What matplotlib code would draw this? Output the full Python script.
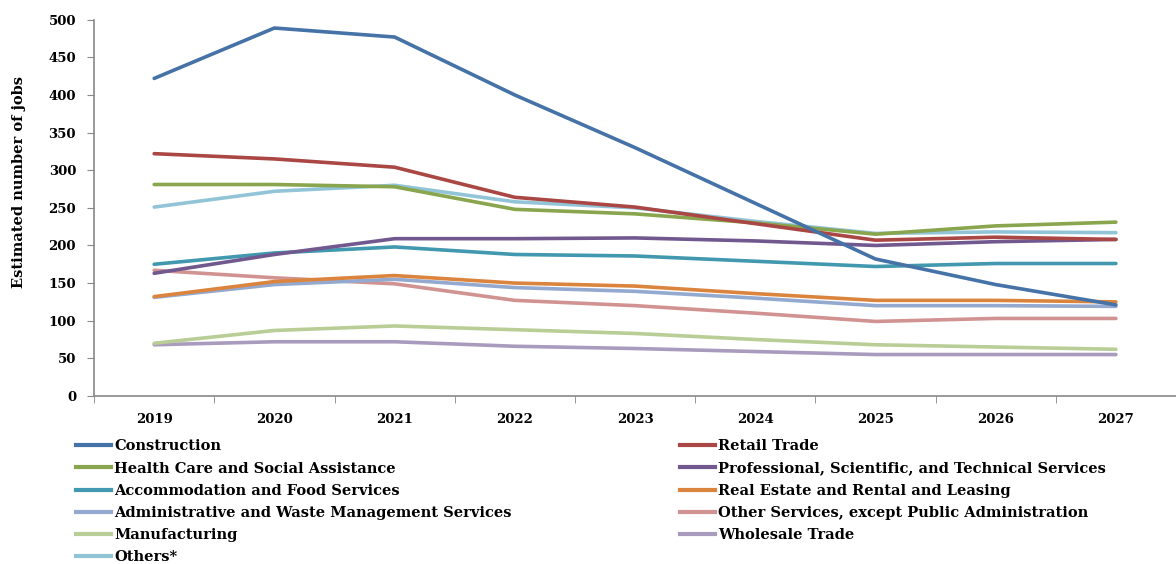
import matplotlib
matplotlib.use("Agg")
import matplotlib.pyplot as plt
from matplotlib.lines import Line2D

years = ["2019", "2020", "2021", "2022", "2023", "2024", "2025", "2026", "2027"]

construction = [422, 489, 477, 400, 330, 256, 182, 148, 121]
retail = [322, 315, 304, 264, 251, 229, 207, 211, 208]
health = [281, 281, 278, 248, 242, 230, 215, 226, 231]
professional = [163, 188, 209, 209, 210, 206, 200, 205, 208]
accommodation = [175, 190, 198, 188, 186, 179, 172, 176, 176]
real_estate = [132, 152, 160, 150, 146, 136, 127, 127, 125]
administrative = [131, 148, 155, 144, 139, 130, 120, 120, 119]
other_services = [167, 157, 149, 127, 120, 110, 99, 103, 103]
manufacturing = [70, 87, 93, 88, 83, 75, 68, 65, 62]
wholesale = [68, 72, 72, 66, 63, 59, 55, 55, 55]
others = [251, 272, 280, 258, 250, 232, 216, 218, 217]

series = [
    ("Construction", construction, "#4572A7"),
    ("Retail Trade", retail, "#AA4643"),
    ("Health Care and Social Assistance", health, "#89A54E"),
    ("Professional, Scientific, and Technical Services", professional, "#71588F"),
    ("Accommodation and Food Services", accommodation, "#4198AF"),
    ("Real Estate and Rental and Leasing", real_estate, "#DB843D"),
    ("Administrative and Waste Management Services", administrative, "#93A9CF"),
    ("Other Services, except Public Administration", other_services, "#D19392"),
    ("Manufacturing", manufacturing, "#B9CD96"),
    ("Wholesale Trade", wholesale, "#A99BBD"),
    ("Others*", others, "#92C4D8"),
]

plt.rcParams["font.family"] = "DejaVu Serif"
plt.rcParams["font.weight"] = "bold"

fig = plt.figure(figsize=(11.76, 5.64), dpi=100)
ax = fig.add_axes([0.08, 0.298, 0.92, 0.667])

x = list(range(len(years)))
# draw in reverse so Construction sits on top
for name, vals, col in reversed(series):
    ax.plot(x, vals, color=col, lw=2.6, solid_capstyle="round", label=name)

ax.set_ylim(0, 500)
ax.set_yticks(range(0, 501, 50))
ax.set_xlim(-0.5, 8.4)
ax.set_xticks(x)
ax.set_xticklabels(years)
ax.set_xticks([i - 0.5 for i in range(10)], minor=True)
ax.tick_params(axis="x", which="major", length=0, pad=12, labelsize=9.5)
ax.tick_params(axis="x", which="minor", length=5, color="#888888", direction="out")
ax.tick_params(axis="y", length=5, color="#888888", labelsize=9.5, pad=8)
for s in ["top", "right"]:
    ax.spines[s].set_visible(False)
for s in ["left", "bottom"]:
    ax.spines[s].set_color("#888888")
    ax.spines[s].set_linewidth(1.2)

ax.set_ylabel("Estimated number of jobs", fontsize=10.5, fontweight="bold")
ax.yaxis.set_label_coords(-0.063, 0.57)

# two-column legend placed as two blocks
def make_handles(items):
    return [Line2D([0], [0], color=c, lw=3) for _, _, c in items]

left_items = series[0::2]
right_items = series[1::2]
kw = dict(frameon=False, fontsize=10.5, handlelength=2.4, handletextpad=0.2,
          labelspacing=0.56, borderaxespad=0, borderpad=0)
fig.legend(make_handles(left_items), [n for n, _, _ in left_items],
           loc="upper left", bbox_to_anchor=(0.065, 0.221), **kw)
fig.legend(make_handles(right_items), [n for n, _, _ in right_items],
           loc="upper left", bbox_to_anchor=(0.578, 0.221), **kw)

fig.savefig("out.png", dpi=100)
